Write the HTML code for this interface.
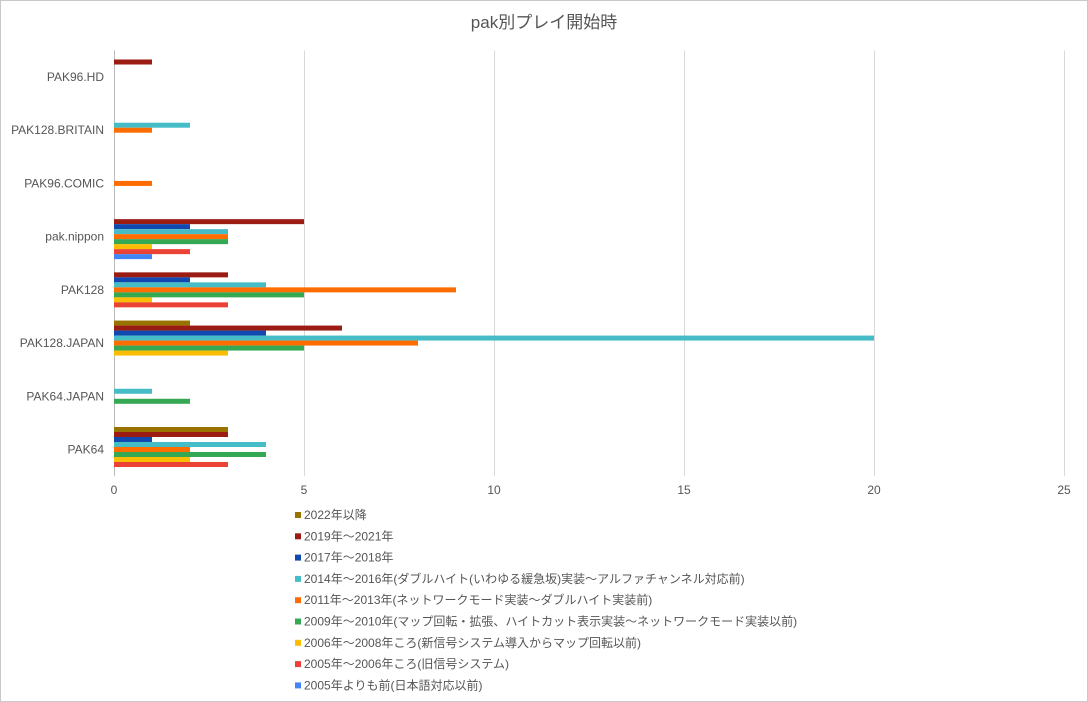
<!DOCTYPE html>
<html><head><meta charset="utf-8"><style>
body{margin:0;background:#fff;}
#wrap{position:relative;width:1088px;height:702px;box-sizing:border-box;border:1px solid #c8c8c8;font-family:"Liberation Sans","Noto Sans CJK JP",sans-serif;}
svg text{font-family:"Liberation Sans","Noto Sans CJK JP",sans-serif;}
</style></head><body>
<div id="wrap">
<svg id="chart" width="1088" height="702" style="position:absolute;left:-1px;top:-1px"></svg>
</div>
<script>
const categories=["PAK96.HD","PAK128.BRITAIN","PAK96.COMIC","pak.nippon","PAK128","PAK128.JAPAN","PAK64.JAPAN","PAK64"];
const seriesNames=["2022年以降","2019年～2021年","2017年～2018年","2014年～2016年(ダブルハイト(いわゆる緩急坂)実装～アルファチャンネル対応前)","2011年～2013年(ネットワークモード実装～ダブルハイト実装前)","2009年～2010年(マップ回転・拡張、ハイトカット表示実装～ネットワークモード実装以前)","2006年～2008年ころ(新信号システム導入からマップ回転以前)","2005年～2006年ころ(旧信号システム)","2005年よりも前(日本語対応以前)"];
const seriesColors=["#997300","#9b1c13","#1149b0","#46bdc6","#ff6d01","#34a853","#fbbc04","#ea4335","#4285f4"];
// values[series][category]
const s2022=[0,0,0,0,0,2,0,3];
const s2019=[1,0,0,5,3,6,0,3];
const s2017=[0,0,0,2,2,4,0,1];
const s2014=[0,2,0,3,4,20,1,4];
const s2011=[0,1,1,3,9,8,0,2];
const s2009=[0,0,0,3,5,5,2,4];
const s2006=[0,0,0,1,1,3,0,2];
const s2005=[0,0,0,2,3,0,0,3];
const sPre=[0,0,0,1,0,0,0,0];
const values=[s2022,s2019,s2017,s2014,s2011,s2009,s2006,s2005,sPre];
const xTicks=[0,5,10,15,20,25];

const NS="http://www.w3.org/2000/svg";
const svg=document.getElementById('chart');
const L=114,R=1064,T=50.4,B=476.1;
const xMax=25;
const xs=v=>L+(R-L)*v/xMax;
const band=(B-T)/categories.length;
const barH=5;
const ys=(ci,si)=>T+ci*band+band/2-barH*9/2+si*barH;
function mk(tag,attrs){const e=document.createElementNS(NS,tag);for(const k in attrs)e.setAttribute(k,attrs[k]);svg.appendChild(e);return e;}

let t=mk('text',{x:544,y:28,'text-anchor':'middle','font-size':17,fill:'#555'});
t.textContent='pak別プレイ開始時';



xTicks.forEach(v=>{
  const g=mk('line',{x1:xs(v)+0.5,x2:xs(v)+0.5,y1:T,y2:B,stroke:v===0?'#bbb':'#d9d9d9','stroke-width':1});
  
  
  const tl=mk('text',{x:xs(v),y:494,'text-anchor':'middle','font-size':12,fill:'#555'});
  tl.textContent=v;
  
  
});

categories.forEach((c,ci)=>{
  const cl=mk('text',{x:104,y:T+ci*band+band/2+4,'text-anchor':'end','font-size':12,fill:'#555'});
  cl.textContent=c;
  
  
  values.forEach((arr,si)=>{
    const v=arr[ci];
    if(!v)return;
    const r=mk('rect',{x:xs(0),y:ys(ci,si),width:xs(v)-xs(0),height:barH,fill:seriesColors[si]});
    
    
  });
});

seriesNames.forEach((n,si)=>{
  const y=515+si*21.3;
  const sq=mk('rect',{x:295,y:y-3,width:6,height:6,fill:seriesColors[si]});
  
  
  const lt=mk('text',{x:304,y:y+4,'font-size':12,fill:'#555'});
  lt.textContent=n;
  
  
});
</script>
</body></html>
